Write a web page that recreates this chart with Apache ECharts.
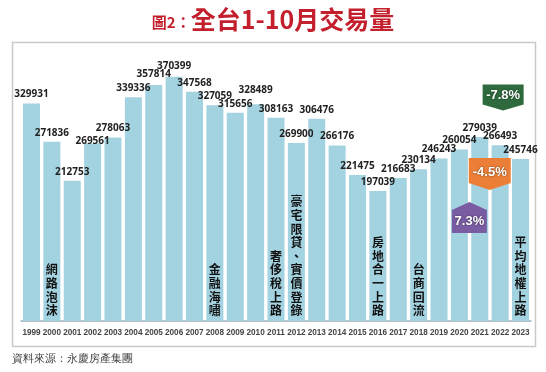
<!DOCTYPE html>
<html><head><meta charset="utf-8">
<script src="https://cdn.jsdelivr.net/npm/echarts@6/dist/echarts.min.js"></script>
<style>html,body{margin:0;padding:0;background:#fff}#c{width:546px;height:372px}</style>
</head><body><div id="c"></div>
<script>
const years = ['1999','2000','2001','2002','2003','2004','2005','2006','2007','2008','2009','2010','2011','2012','2013','2014','2015','2016','2017','2018','2019','2020','2021','2022','2023'];
const volumes = [329931,271836,212753,269561,278063,339336,357814,370399,347568,327059,315656,328489,308163,269900,306476,266176,221475,197039,216683,230134,246243,260054,279039,266493,245746];
const eventYears = ['2000','2008','2011','2012','2016','2018','2023'];
const eventLabels = ['網路泡沫','金融海嘯','奢侈稅上路','豪宅限貸、實價登錄','房地合一上路','台商回流','平均地權上路'];
const changeFromYears = ['2020','2021','2022'];
const changeLabels = ['7.3%','-4.5%','-7.8%'];
const titleText = '全台1-10月交易量';
const titlePrefix = '圖2：';
const sourceText = '資料來源：永慶房產集團';

const chart = echarts.init(document.getElementById('c'), null, {renderer:'canvas'});
const numFont = '"Open Sans","Liberation Sans",sans-serif';
const cjkFont = '"Noto Sans CJK TC","Noto Sans CJK SC",sans-serif';

const labelShift = {3: 7, 11: -5, 6: -2, 7: -2};
const barData = volumes.map((v, i) => {
  const d = {value: v};
  if (labelShift[i] !== undefined) d.label = {offset: [0, labelShift[i]]};
  return d;
});

const eventPoints = eventYears.map((y, i) => ({
  coord: [y, 0],
  symbol: 'rect', symbolSize: 1,
  itemStyle: {color: 'rgba(0,0,0,0)'},
  label: {
    show: true, position: 'top', distance: 3,
    formatter: eventLabels[i].split('').join('\n'),
    fontFamily: cjkFont, fontWeight: 'bold', fontSize: 12, lineHeight: 13.6,
    color: '#111', align: 'center'
  }
}));

const badgeStyles = [
  {color: '#7a5ca3', path: 'path://M0,8 L17,0 L34,8 L34,31 L0,31 Z', size: [35, 31], yv: 157000, dx: 10, off: [0, 4]},
  {color: '#ec7f37', path: 'path://M0,0 L42,0 L42,25 L21,32 L0,25 Z', size: [42, 32], yv: 223000, dx: 10, off: [0, -2]},
  {color: '#2e6a3d', path: 'path://M0,0 L41,0 L41,20 L20.5,26 L0,20 Z', size: [41, 26], yv: 339000, dx: 3, off: [0, -2]}
];
const badgePoints = changeFromYears.map((y, i) => {
  const s = badgeStyles[i];
  return {
    coord: [y, s.yv],
    symbol: s.path, symbolSize: s.size, symbolKeepAspect: false,
    symbolOffset: [s.dx, 0],
    itemStyle: {color: s.color},
    label: {
      show: true, position: 'inside', offset: s.off,
      formatter: changeLabels[i],
      color: '#fff', fontWeight: 'bold', fontSize: 13, fontFamily: '"Liberation Sans",sans-serif',
      textShadowColor: 'rgba(0,0,0,0.6)', textShadowBlur: 2
    }
  };
});

chart.setOption({
  animation: false,
  backgroundColor: '#fff',
  title: {
    text: '{a|' + titlePrefix + '}{b|' + titleText + '}',
    left: 'center', top: 2,
    textStyle: {
      rich: {
        a: {fontSize: 15, color: '#c41f2c', fontFamily: cjkFont, fontWeight: 'bold', verticalAlign: 'bottom', padding: [0,0,2,0]},
        b: {fontSize: 25, color: '#c41f2c', fontFamily: cjkFont, fontWeight: 'bold'}
      }
    }
  },
  graphic: [
    {type: 'rect', shape: {x: 12.5, y: 42.5, width: 523, height: 304}, style: {fill: 'none', stroke: '#c9c9c9', lineWidth: 1.5}, z: -1},
    {type: 'text', left: 12, top: 353, style: {text: sourceText, fontSize: 11, fill: '#444', font: '11px ' + cjkFont}}
  ],
  grid: {left: 21.3, right: 15.3, top: 44, bottom: 51},
  xAxis: {
    type: 'category', data: years,
    axisLine: {show: true, lineStyle: {color: '#b7c3c8', width: 2}},
    axisTick: {show: false},
    axisLabel: {interval: 0, margin: 8, fontSize: 8.2, fontWeight: 'bold', color: '#444', fontFamily: '"Liberation Sans",sans-serif'}
  },
  yAxis: {type: 'value', min: 0, max: 420000, show: false, splitLine: {show: false}},
  series: [{
    type: 'bar', data: barData, barWidth: 17,
    itemStyle: {color: '#a3d2e0'},
    label: {show: true, position: 'top', distance: 4, color: '#222', fontSize: 10, fontWeight: 'bold', fontFamily: numFont},
    markPoint: {silent: true, data: eventPoints.concat(badgePoints)}
  }]
});
</script></body></html>
